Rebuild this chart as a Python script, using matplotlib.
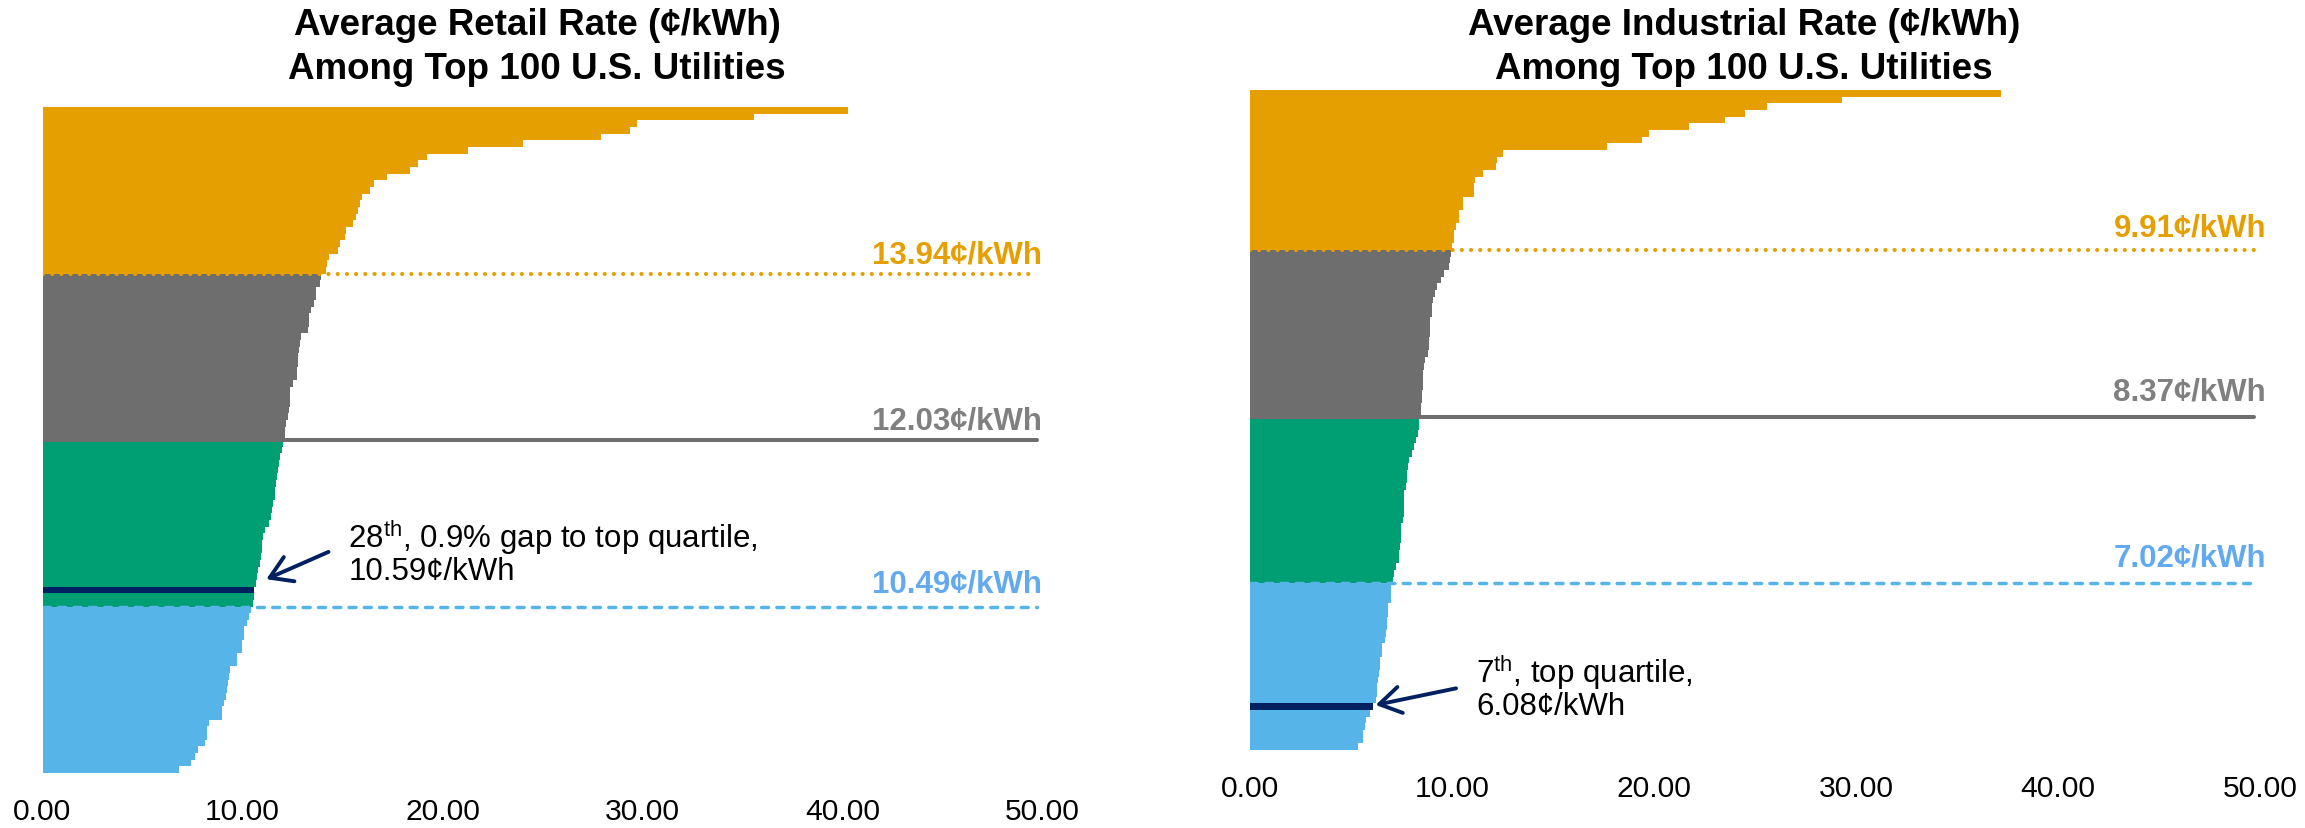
import matplotlib
matplotlib.use("Agg")
import matplotlib.pyplot as plt

plt.rcParams['font.family'] = ['Liberation Sans', 'DejaVu Sans']
plt.rcParams['mathtext.fontset'] = 'custom'
plt.rcParams['mathtext.rm'] = 'Liberation Sans'

# Average rate per utility (cents/kWh), most expensive first
retail_rates = [
    40.28, 35.58, 29.73, 29.37, 27.92, 24.04, 21.27, 19.22, 18.78, 18.37,
    17.23, 16.58, 16.37, 15.97, 15.86, 15.78, 15.68, 15.53, 15.18, 15.10,
    14.88, 14.78, 14.33, 14.22, 14.15, 13.93, 13.87, 13.68, 13.66, 13.58,
    13.43, 13.33, 13.31, 13.28, 12.91, 12.88, 12.81, 12.76, 12.75, 12.71,
    12.70, 12.53, 12.38, 12.37, 12.36, 12.33, 12.26, 12.18, 12.13, 12.12,
    12.02, 11.95, 11.88, 11.84, 11.79, 11.72, 11.68, 11.64, 11.60, 11.54,
    11.49, 11.40, 11.34, 11.12, 11.04, 10.99, 10.96, 10.91, 10.87, 10.79,
    10.74, 10.69, 10.59, 10.56, 10.51, 10.41, 10.33, 10.23, 10.06, 10.05,
    9.96, 9.95, 9.73, 9.72, 9.38, 9.31, 9.26, 9.21, 9.16, 9.06,
    8.98, 8.97, 8.33, 8.23, 8.21, 8.11, 7.76, 7.63, 7.43, 6.83,
]
industrial_rates = [
    37.20, 29.32, 25.60, 24.52, 23.53, 21.72, 19.77, 19.42, 17.65, 12.52,
    12.22, 12.17, 11.51, 11.16, 11.11, 11.10, 10.53, 10.52, 10.35, 10.34,
    10.22, 10.12, 10.11, 10.00, 9.95, 9.90, 9.86, 9.61, 9.46, 9.26,
    9.16, 9.06, 9.01, 9.00, 8.91, 8.90, 8.89, 8.86, 8.85, 8.81,
    8.66, 8.61, 8.56, 8.55, 8.54, 8.51, 8.50, 8.49, 8.47, 8.37,
    8.36, 8.30, 8.20, 8.12, 8.01, 7.88, 7.81, 7.76, 7.75, 7.71,
    7.64, 7.62, 7.61, 7.60, 7.57, 7.49, 7.48, 7.47, 7.43, 7.38,
    7.37, 7.21, 7.14, 7.09, 6.98, 6.97, 6.96, 6.83, 6.82, 6.80,
    6.78, 6.72, 6.68, 6.55, 6.54, 6.44, 6.42, 6.37, 6.35, 6.29,
    6.27, 6.22, 6.08, 5.94, 5.74, 5.71, 5.61, 5.60, 5.35,
]

# top quartile, median, bottom quartile thresholds
retail_quartiles = [10.49, 12.03, 13.94]
industrial_quartiles = [7.02, 8.37, 9.91]

retail_rank = 28
industrial_rank = 7

retail_note = [r"28$^{\rm th}$, 0.9% gap to top quartile,", "10.59¢/kWh"]
industrial_note = [r"7$^{\rm th}$, top quartile,", "6.08¢/kWh"]

retail_title = ["Average Retail Rate (¢/kWh)", "Among Top 100 U.S. Utilities"]
industrial_title = ["Average Industrial Rate (¢/kWh)", "Among Top 100 U.S. Utilities"]

xticks = [0, 10, 20, 30, 40, 50]

BLUE = '#56B4E9'
GREEN = '#009E73'
GRAY = '#6E6E6E'
ORANGE = '#E69F00'
NAVY = '#002060'
LINE_COLORS = [BLUE, GRAY, ORANGE]
TEXT_COLORS = ['#62A9F0', '#808080', ORANGE]

W, H = 2305, 829
fig = plt.figure(figsize=(W / 100, H / 100), dpi=100)


def px_axes(left, top, right, bottom):
    return fig.add_axes([left / W, 1 - bottom / H, (right - left) / W, (bottom - top) / H])


def draw_panel(ax, rates, quartiles, rank, note, note_x, note_y, head_off, tail_off,
               label_x, label_off, title, title_x):
    values = rates[::-1]          # cheapest at the bottom
    n = len(values)
    colors = []
    for i in range(n):
        if i < 25:
            colors.append(BLUE)
        elif i < 50:
            colors.append(GREEN)
        elif i < 75:
            colors.append(GRAY)
        else:
            colors.append(ORANGE)
    colors[rank - 1] = NAVY
    ax.barh(range(n), values, height=1.0, color=colors, linewidth=0,
            antialiased=False, zorder=2)

    # quartile boundaries between groups of 25
    styles = [dict(ls=(0, (2.0, 2.4)), lw=2.5, dash_capstyle='round'),
              dict(ls='-', lw=2.9, solid_capstyle='round'),
              dict(ls=(0, (0.01, 2.2)), lw=3.0, dash_capstyle='round')]
    for j, q in enumerate(quartiles):
        yb = 25 * (j + 1) - 0.5
        ax.plot([0, 49.7], [yb, yb], color=LINE_COLORS[j], zorder=3, **styles[j])
        ax.annotate(f"{q:.2f}¢/kWh", xy=(label_x, yb), xytext=(0, label_off[j]),
                    textcoords='offset points', ha='right', va='baseline',
                    fontsize=22.5, fontweight='bold', color=TEXT_COLORS[j],
                    annotation_clip=False)

    # highlighted utility
    yr = rank - 1
    xr = values[rank - 1]
    ax.annotate("", xy=(xr + head_off[0], yr + head_off[1]),
                xytext=(note_x + tail_off[0], note_y[0] + tail_off[1]),
                arrowprops=dict(arrowstyle="->,head_length=0.45,head_width=0.28",
                                color=NAVY, lw=2.8, mutation_scale=34,
                                shrinkA=0, shrinkB=0), zorder=4)
    for line, yy in zip(note, note_y):
        ax.text(note_x, yy, line, fontsize=22.5, ha='left', va='baseline', color='black')

    ax.set_xlim(0, 50)
    ax.set_ylim(-0.5, n - 0.5)
    ax.set_xticks(xticks)
    ax.set_xticklabels([f"{t:.2f}" for t in xticks], fontsize=21.6)
    ax.set_yticks([])
    ax.tick_params(axis='x', length=0, pad=17)
    for s in ax.spines.values():
        s.set_visible(False)

    for line, base in zip(title, [35, 79]):
        fig.text(title_x / W, 1 - base / H, line, ha='center', va='baseline',
                 fontsize=26.5, fontweight='bold')


ax1 = px_axes(42.5, 108, 1042.5, 774)
draw_panel(ax1, retail_rates, retail_quartiles, retail_rank, retail_note,
           note_x=15.3, note_y=[33.4, 28.6], head_off=(0.6, 1.6), tail_off=(-1.0, -0.7),
           label_x=50.0, label_off=[10.8, 8.6, 7.9], title=retail_title, title_x=537)

ax2 = px_axes(1250, 91, 2260, 751)
draw_panel(ax2, industrial_rates, industrial_quartiles, industrial_rank, industrial_note,
           note_x=11.2, note_y=[9.65, 4.9], head_off=(0.14, 0.25), tail_off=(-1.0, -0.9),
           label_x=50.3, label_off=[12.7, 12.2, 10.1], title=industrial_title, title_x=1744)

fig.savefig("out.png", dpi=100)
